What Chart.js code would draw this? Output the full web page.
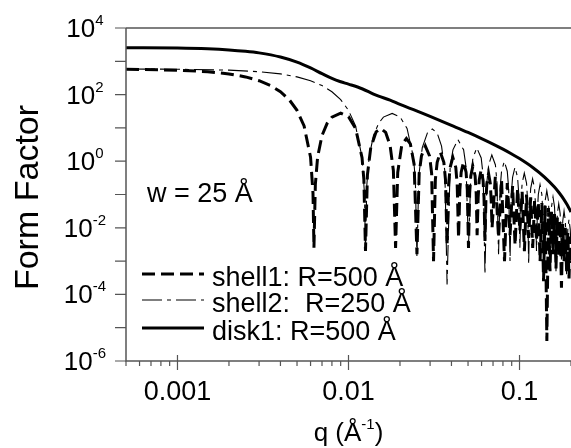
<!DOCTYPE html>
<html>
<head>
<meta charset="utf-8">
<script src="https://cdn.jsdelivr.net/npm/chart.js@4.4.0/dist/chart.umd.min.js"></script>
<style>
  body { margin: 0; background: #fff; }
  canvas { display: block; }
</style>
</head>
<body>
<canvas id="form_factor" width="571" height="448"></canvas>
<script>
// form factor curves: [q (1/Å), form factor]
const shell1Data = [
    [0.0005, 578], [0.001, 542], [0.0015, 487], [0.002, 418], [0.0025, 340], [0.003, 261],
    [0.0035, 187], [0.004, 122], [0.0045, 70.6], [0.005, 33.8], [0.0055, 11.4], [0.006, 1.31],
    [0.0062, 0.11], [0.00628, 0.0025], [0.0064, 0.2], [0.0066, 1.35], [0.007, 5.9], [0.0075, 13.7],
    [0.008, 21.1], [0.009, 27.8], [0.010, 21.7], [0.011, 9.7], [0.012, 1.28], [0.0123, 0.28],
    [0.01257, 0.002], [0.0129, 0.39], [0.0135, 2.6], [0.0145, 7.6], [0.01545, 9.6], [0.0165, 7.3],
    [0.0175, 3.0], [0.0183, 0.52], [0.01885, 0.0025], [0.0194, 0.46], [0.0205, 3.1], [0.0218, 4.8],
    [0.023, 3.3], [0.0242, 0.8], [0.02513, 0.0016],
    [0.0259, 0.43], [0.0267, 1.43], [0.02813, 2.85], [0.0298, 1.43], [0.03063, 0.43], [0.03142, 0.001],
    [0.0322, 0.28], [0.0330, 0.93], [0.03444, 1.86], [0.0361, 0.93], [0.0369, 0.28], [0.0377, 0.003],
    [0.0385, 0.2], [0.0393, 0.65], [0.04074, 1.30], [0.0424, 0.65], [0.0432, 0.2], [0.0440, 0.005],
    [0.0448, 0.14], [0.0456, 0.47], [0.04704, 0.95], [0.0487, 0.47], [0.0495, 0.14], [0.0503, 0.0025],
    [0.0511, 0.11], [0.0519, 0.36], [0.05333, 0.71], [0.0550, 0.36], [0.0558, 0.11], [0.0565, 0.006],
    [0.0573, 0.08], [0.0581, 0.27], [0.05962, 0.55], [0.0612, 0.27], [0.0620, 0.08], [0.0628, 0.004],
    [0.0636, 0.065], [0.0644, 0.21], [0.06591, 0.43], [0.0675, 0.21], [0.0683, 0.065], [0.0691, 0.01],
    [0.0722, 0.34], [0.0754, 0.005], [0.0785, 0.275], [0.0817, 0.001], [0.0848, 0.22], [0.0880, 0.006],
    [0.0911, 0.18], [0.0942, 0.003], [0.0974, 0.148], [0.1005, 0.008], [0.1036, 0.121], [0.1068, 0.002],
    [0.1099, 0.10], [0.1131, 0.005], [0.1162, 0.082], [0.1194, 0.0025], [0.1225, 0.067], [0.1257, 0.004],
    [0.1288, 0.058], [0.1319, 0.001], [0.1351, 0.055], [0.1382, 0.00025], [0.1413, 0.046], [0.1445, 0.000004],
    [0.1476, 0.039], [0.1508, 0.0005], [0.1539, 0.032], [0.1571, 0.0016], [0.1602, 0.026], [0.1634, 0.0006],
    [0.1665, 0.021], [0.1696, 0.0013], [0.1728, 0.017], [0.1759, 0.00016], [0.1790, 0.013], [0.1822, 0.001],
    [0.1853, 0.010], [0.1885, 0.0005], [0.1916, 0.0075], [0.1948, 0.0003], [0.1979, 0.0055], [0.2, 0.0009]
];

const shell2Data = [
    [0.0005, 587], [0.001, 578], [0.002, 542], [0.003, 487], [0.004, 418], [0.005, 340],
    [0.006, 261], [0.007, 187], [0.008, 122], [0.009, 70.6], [0.010, 33.8], [0.011, 11.4],
    [0.012, 1.31], [0.0124, 0.106], [0.01257, 0.002], [0.0128, 0.197], [0.0132, 1.35], [0.014, 5.9],
    [0.015, 13.7], [0.016, 21.1], [0.018, 27.3], [0.020, 21.5], [0.022, 9.6], [0.024, 1.27],
    [0.0246, 0.27], [0.02513, 0.0013], [0.0258, 0.39], [0.027, 2.55], [0.029, 7.3], [0.0309, 9.25],
    [0.033, 7.0], [0.035, 2.85], [0.0366, 0.5], [0.0377, 0.0002],
    [0.0393, 0.66], [0.0408, 2.2], [0.04362, 4.45], [0.0471, 2.2], [0.0487, 0.66], [0.0503, 0.0025],
    [0.0519, 0.37], [0.0534, 1.25], [0.05626, 2.51], [0.0597, 1.25], [0.0613, 0.37], [0.0628, 0.0004],
    [0.0644, 0.23], [0.0660, 0.77], [0.06888, 1.54], [0.0723, 0.77], [0.0738, 0.23], [0.0754, 0.0016],
    [0.0770, 0.15], [0.0785, 0.5], [0.08148, 0.99], [0.0848, 0.5], [0.0864, 0.15], [0.0880, 0.001],
    [0.0895, 0.1], [0.0911, 0.33], [0.09408, 0.656], [0.0974, 0.33], [0.0990, 0.1], [0.1005, 0.0025],
    [0.1021, 0.066], [0.1036, 0.22], [0.10666, 0.441], [0.1099, 0.22], [0.1115, 0.066], [0.1131, 0.0008],
    [0.1147, 0.044], [0.1162, 0.15], [0.11925, 0.296], [0.1225, 0.15], [0.1241, 0.044], [0.1257, 0.002],
    [0.1272, 0.03], [0.1288, 0.1], [0.13182, 0.199], [0.1351, 0.1], [0.1367, 0.03], [0.1382, 0.0006],
    [0.1398, 0.02], [0.1413, 0.066], [0.1444, 0.131], [0.1476, 0.066], [0.1492, 0.02], [0.1508, 0.0013],
    [0.1524, 0.013], [0.1539, 0.043], [0.15698, 0.085], [0.1602, 0.043], [0.1618, 0.013], [0.1634, 0.0005],
    [0.1650, 0.008], [0.1665, 0.027], [0.16955, 0.053], [0.1728, 0.027], [0.1743, 0.008], [0.1759, 0.001],
    [0.1775, 0.005], [0.1790, 0.016], [0.18212, 0.032], [0.1853, 0.016], [0.1869, 0.005], [0.1885, 0.0004],
    [0.1901, 0.0027], [0.1916, 0.009], [0.1947, 0.018], [0.1979, 0.009], [0.2, 0.003]
];

const disk1Data = [
    [0.0005, 2571], [0.001, 2494], [0.0015, 2368], [0.002, 2201], [0.0025, 2004], [0.003, 1789],
    [0.004, 1343], [0.005, 941], [0.006, 631], [0.007, 425], [0.008, 306], [0.009, 243],
    [0.010, 206], [0.012, 150], [0.014, 104], [0.015, 90], [0.0175, 68], [0.02, 50.6],
    [0.025, 32.5], [0.03, 22.2], [0.04, 11.9], [0.05, 7.3], [0.06, 4.77], [0.07, 3.27],
    [0.08, 2.30], [0.09, 1.65], [0.1, 1.20], [0.12, 0.638], [0.14, 0.335], [0.16, 0.168],
    [0.17, 0.115], [0.18, 0.0768], [0.19, 0.049], [0.2, 0.0298]
];

const seriesLabels = ['shell1: R=500 Å', 'shell2:  R=250 Å', 'disk1: R=500 Å'];
const noteText = 'w = 25 Å';

// axis ticks
const yTickExps = [4, 3, 2, 1, 0, -1, -2, -3, -4, -5, -6];
const yLabelExps = ['4', '2', '0', '-2', '-4', '-6'];
const xMajorTicks = [0.001, 0.01, 0.1];
const xMajorLabels = ['0.001', '0.01', '0.1'];
const xMinorTicks = [0.0005, 0.0006, 0.0007, 0.0008, 0.0009,
    0.002, 0.003, 0.004, 0.005, 0.006, 0.007, 0.008, 0.009,
    0.02, 0.03, 0.04, 0.05, 0.06, 0.07, 0.08, 0.09, 0.2];

const FONT = "'Liberation Sans', Arial, sans-serif";

const toPoints = (rows) => rows.map(r => ({x: r[0], y: r[1]}));

// draws axes, ticks, labels, legend and note (the reference has superscripts and an inside legend)
const decorPlugin = {
    id: 'decor',
    afterDraw(chart) {
        const {ctx, chartArea: {left, right, top, bottom}, scales: {x, y}} = chart;
        ctx.save();
        ctx.strokeStyle = '#555';
        ctx.lineWidth = 1.5;
        ctx.beginPath();
        ctx.moveTo(left, top); ctx.lineTo(right, top);
        ctx.moveTo(left, top); ctx.lineTo(left, bottom); ctx.lineTo(right, bottom);
        ctx.stroke();

        // y ticks, one per decade, pointing out
        ctx.lineWidth = 1.2;
        ctx.beginPath();
        yTickExps.forEach(e => {
            const py = y.getPixelForValue(Math.pow(10, e));
            ctx.moveTo(left - 11, py); ctx.lineTo(left, py);
        });
        // x major ticks cross the axis, minor ticks below
        xMajorTicks.forEach(v => {
            const px = x.getPixelForValue(v);
            ctx.moveTo(px, bottom - 6); ctx.lineTo(px, bottom + 9);
        });
        xMinorTicks.forEach(v => {
            const px = x.getPixelForValue(v);
            ctx.moveTo(px, bottom); ctx.lineTo(px, bottom + 5);
        });
        ctx.stroke();

        ctx.fillStyle = '#000';
        ctx.textBaseline = 'alphabetic';

        // y labels 10^n
        yLabelExps.forEach(e => {
            const py = y.getPixelForValue(Math.pow(10, Number(e)));
            ctx.font = '26px ' + FONT;
            const w1 = ctx.measureText('10').width;
            ctx.font = '15px ' + FONT;
            const w2 = ctx.measureText(e).width;
            const x0 = 85 - (w1 + w2) / 2;
            ctx.textAlign = 'left';
            ctx.font = '26px ' + FONT;
            ctx.fillText('10', x0, py + 9);
            ctx.font = '15px ' + FONT;
            ctx.fillText(e, x0 + w1, py - 3);
        });

        // x labels
        ctx.font = '27px ' + FONT;
        ctx.textAlign = 'center';
        xMajorTicks.forEach((v, i) => {
            ctx.fillText(xMajorLabels[i], x.getPixelForValue(v), 400);
        });

        // x title q (Å^-1)
        const parts = [['q (Å', 26, 0], ['-1', 15, -12], [')', 26, 0]];
        let total = 0;
        parts.forEach(p => { ctx.font = p[1] + 'px ' + FONT; total += ctx.measureText(p[0]).width; });
        let cx = (left + right) / 2 - total / 2;
        ctx.textAlign = 'left';
        parts.forEach(p => {
            ctx.font = p[1] + 'px ' + FONT;
            ctx.fillText(p[0], cx, 441 + p[2]);
            cx += ctx.measureText(p[0]).width;
        });

        // y title
        ctx.save();
        ctx.translate(38, (top + bottom) / 2 + 3);
        ctx.rotate(-Math.PI / 2);
        ctx.textAlign = 'center';
        ctx.font = '34px ' + FONT;
        ctx.fillText('Form Factor', 0, 0);
        ctx.restore();

        // note
        ctx.textAlign = 'left';
        ctx.font = '27px ' + FONT;
        ctx.fillText(noteText, 147, 202);

        // legend inside the plot
        const rows = [274, 300, 328];
        chart.data.datasets.forEach((ds, i) => {
            ctx.save();
            ctx.strokeStyle = ds.borderColor;
            ctx.lineWidth = ds.borderWidth;
            ctx.setLineDash(ds.borderDash || []);
            ctx.beginPath();
            ctx.moveTo(142, rows[i]); ctx.lineTo(204, rows[i]);
            ctx.stroke();
            ctx.restore();
            ctx.font = '27px ' + FONT;
            ctx.fillText(ds.label, 212, rows[i] + 12);
        });
        ctx.restore();
    }
};

const ctx = document.getElementById('form_factor').getContext('2d');
new Chart(ctx, {
    type: 'line',
    data: {
        datasets: [{
            label: seriesLabels[0],
            data: toPoints(shell1Data),
            borderColor: '#000',
            borderWidth: 3,
            borderDash: [13, 6]
        }, {
            label: seriesLabels[1],
            data: toPoints(shell2Data),
            borderColor: '#000',
            borderWidth: 1.1,
            borderDash: [20, 5, 4, 5]
        }, {
            label: seriesLabels[2],
            data: toPoints(disk1Data),
            borderColor: '#000',
            borderWidth: 3,
            cubicInterpolationMode: 'monotone'
        }]
    },
    options: {
        responsive: false,
        animation: false,
        layout: {padding: {left: 126, top: 28, right: 0, bottom: 87}},
        elements: {point: {radius: 0}, line: {tension: 0}},
        scales: {
            x: {type: 'logarithmic', min: 0.0005, max: 0.2, display: false},
            y: {type: 'logarithmic', min: 1e-6, max: 1e4, display: false}
        },
        plugins: {legend: {display: false}, tooltip: {enabled: false}}
    },
    plugins: [decorPlugin]
});
</script>
</body>
</html>
